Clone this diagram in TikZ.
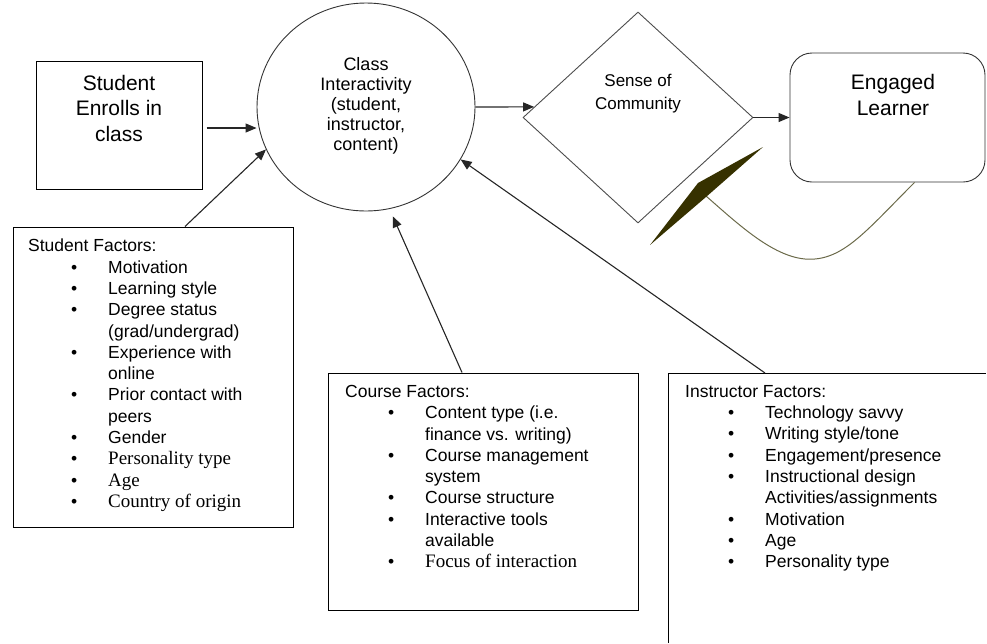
\documentclass[tikz,border=0pt]{standalone}
\usepackage{fontspec}
\setmainfont{Liberation Sans}
\newfontfamily\timesfont{Liberation Serif}
\usetikzlibrary{shapes.geometric,arrows.meta,calc}

\definecolor{fbline}{HTML}{6B6A4A}
\definecolor{fbhead}{HTML}{363100}

\tikzset{
  arr/.style={-{Triangle[length=11pt,width=9pt]},line width=1.1pt,black!85},
  box/.style={draw,line width=1pt,inner sep=0pt},
  lst/.style={anchor=north west,align=left,inner sep=0pt,font=\fontsize{17.5}{21.3}\selectfont},
  ctr/.style={anchor=north,align=center,inner sep=0pt},
}
\newcommand{\lstbul}{\hspace*{43pt}\makebox[37pt][l]{\textbullet}}
\newcommand{\lstcont}{\hspace*{80pt}}
\newcommand{\tm}{\fontsize{19}{21.3}\selectfont\timesfont}

\begin{document}
\begin{tikzpicture}[x=1pt,y=-1pt]
    \useasboundingbox (0,0) rectangle (987,643);
    % top row
    \node[box,minimum width=166pt,minimum height=128pt] (se) at (119,125) {};
    \node[ctr,font=\fontsize{21}{25.5}\selectfont] (setxt) at (119,75) {Student\\Enrolls in\\class};
    \node[draw,ellipse,line width=.9pt,black!80,minimum width=218pt,minimum height=208pt,inner sep=0pt] (ci) at (366,107) {};
    \node[ctr,font=\fontsize{18}{20}\selectfont] (citxt) at (366,57) {Class\\Interactivity\\(student,\\instructor,\\content)};
    \node[draw,diamond,line width=.9pt,black!70,minimum width=230pt,minimum height=211pt,inner sep=0pt] (sc) at (638,117.5) {};
    \node[ctr,font=\fontsize{17}{22.5}\selectfont] (sctxt) at (638,74) {Sense of\\Community};
    \node[draw,line width=.9pt,black!80,rounded corners=22pt,minimum width=195pt,minimum height=129pt] (el) at (887.5,117.5) {};
    \node[ctr,font=\fontsize{21}{26.5}\selectfont] (eltxt) at (893,74) {Engaged\\Learner};
    % factor boxes
    \node[box,minimum width=280pt,minimum height=300pt] (sfbox) at (153,377) {};
    \node[lst] (sf) at (28,239) {Student Factors:\\
      \lstbul Motivation\\
      \lstbul Learning style\\
      \lstbul Degree status\\
      \lstcont (grad/undergrad)\\
      \lstbul Experience with\\
      \lstcont online\\
      \lstbul Prior contact with\\
      \lstcont peers\\
      \lstbul Gender\\
      \lstbul {\tm Personality type}\\
      \lstbul {\tm Age}\\
      \lstbul {\tm Country of origin}};
    \node[box,minimum width=310pt,minimum height=237pt] (cfbox) at (483,491.5) {};
    \node[lst] (cf) at (345,385) {Course Factors:\\
      \lstbul Content type (i.e.\\
      \lstcont finance vs. writing)\\
      \lstbul Course management\\
      \lstcont system\\
      \lstbul Course structure\\
      \lstbul Interactive tools\\
      \lstcont available\\
      \lstbul {\tm Focus of interaction}};
    \draw[line width=1pt] (668,643) |- (986,373);
    \coordinate (ifTop) at (765,373);
    \node[lst] (if) at (685,385) {Instructor Factors:\\
      \lstbul Technology savvy\\
      \lstbul Writing style/tone\\
      \lstbul Engagement/presence\\
      \lstbul Instructional design\\
      \lstcont Activities/assignments\\
      \lstbul Motivation\\
      \lstbul Age\\
      \lstbul Personality type};
    % arrows
    \draw[arr,shorten <=4pt] ([yshift=-3pt]se.east) -- ([yshift=-3pt]se.east -| ci.west);
    \draw[arr] ([xshift=32pt]sfbox.north) -- (ci.203);
    \draw[arr,shorten >=8pt] ([xshift=-21pt]cfbox.north) -- (ci.-77);
    \draw[arr] (ifTop) -- (ci.-29);
    \draw[arr] (ci.east) -- ($(sc.west)!.1!(sc.north)$);
    \draw[arr] (sc.east) -- (el.west);
    % feedback loop
    \coordinate (fb) at (706,196);
    \draw[fbline,line width=1pt] ([xshift=27pt]el.south) .. controls (865,232) and (842,262) .. (805,259)
      .. controls (772,256) and (738,224) .. (fb);
    \fill[fbhead] (650,245) -- (698,183) -- (763,147) -- (706,197) -- cycle;
\end{tikzpicture}
\end{document}
